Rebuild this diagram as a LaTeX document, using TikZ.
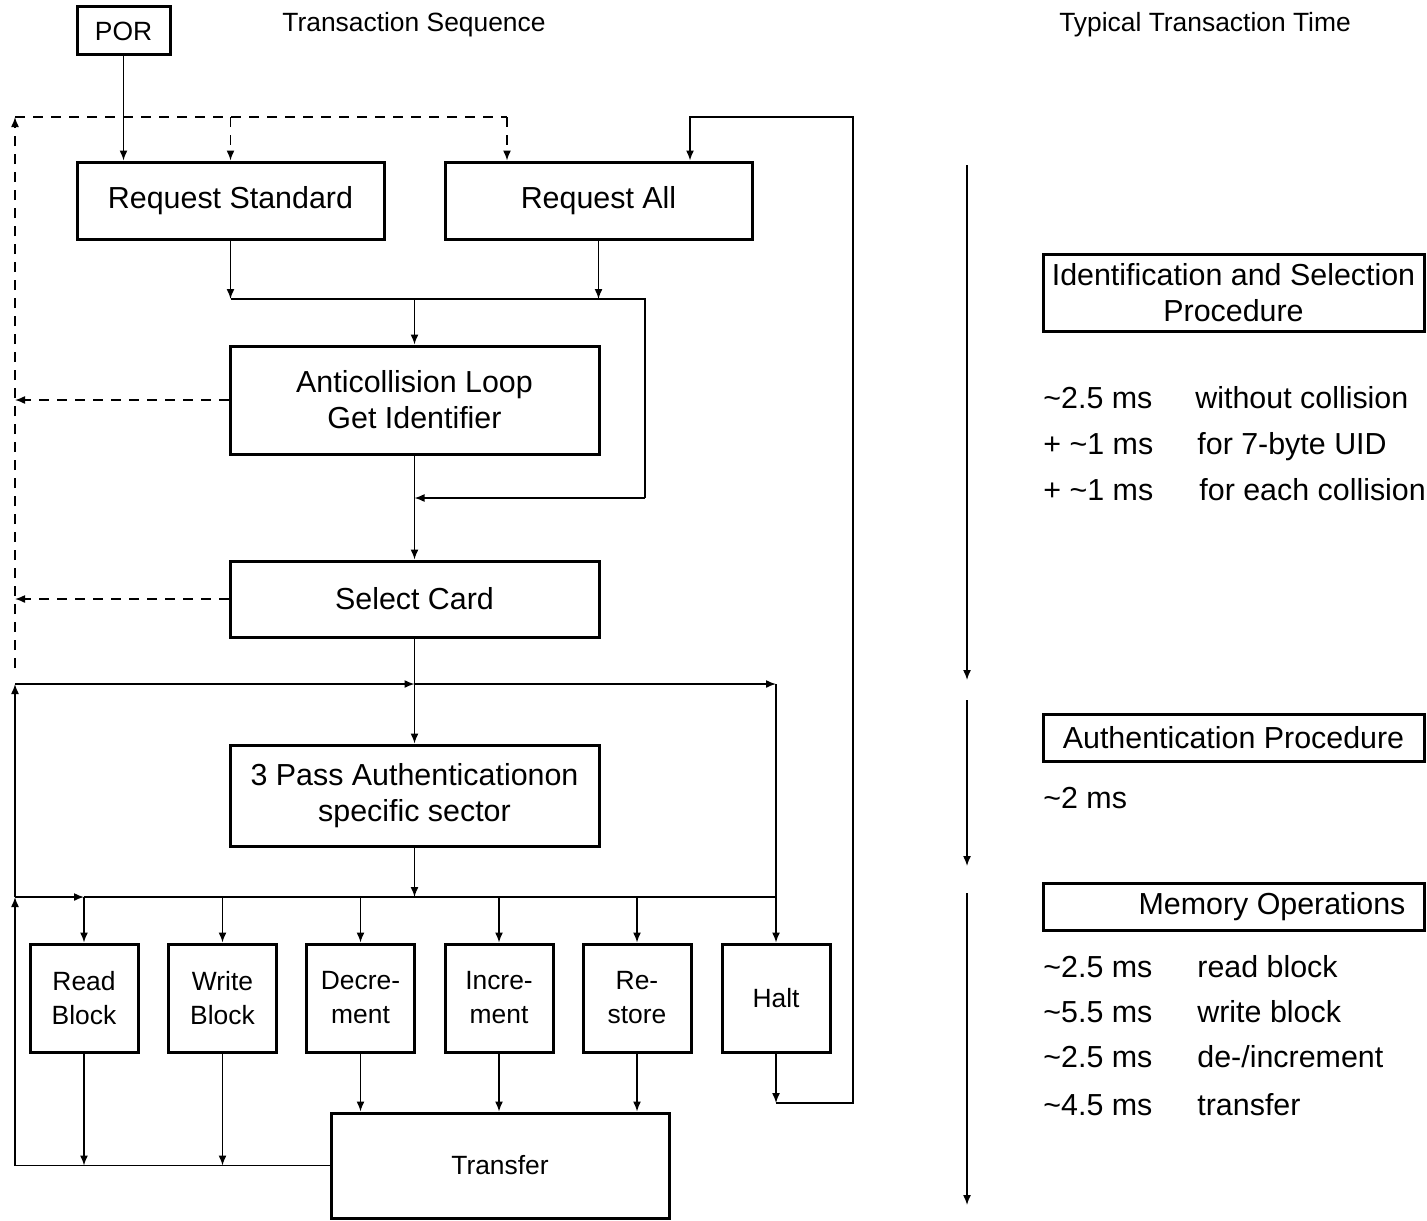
\documentclass[tikz,border=0pt]{standalone}
\usepackage{fontspec}
\setmainfont{Liberation Sans}
\usetikzlibrary{arrows.meta}
\begin{document}
\begin{tikzpicture}[x=0.5pt,y=-0.5pt,
  box/.style={draw, line width=1.5pt, align=center, inner sep=0pt, font=\fontsize{15.2}{18}\selectfont},
  sbox/.style={draw, line width=1.5pt, align=center, inner sep=0pt, minimum width=54pt, minimum height=54pt, font=\fontsize{13.2}{17}\selectfont},
  conn/.style={line width=0.75pt},
  arr/.style={conn, -{Latex[length=5pt,width=4pt]}},
  dconn/.style={conn, dash pattern=on 5pt off 4pt},
  darr/.style={arr, dash pattern=on 5pt off 4pt},
  lbl/.style={anchor=base west, inner sep=0pt, font=\fontsize{15.2}{18}\selectfont},
  ttl/.style={inner sep=0pt, font=\fontsize{13.2}{16}\selectfont},
]
\useasboundingbox (0,0) rectangle (1427,1220);

% titles
\node[ttl] (t1) at (414,25) {Transaction Sequence};
\node[ttl] (t2) at (1205,25) {Typical Transaction Time};

% main boxes
\node[box, minimum width=46.5pt, minimum height=24pt, font=\fontsize{13.2}{16}\selectfont] (por) at (123.5,31) {POR};
\node[box, minimum width=153.5pt, minimum height=38.5pt] (rs) at (230.5,200.5) {Request Standard};
\node[box, minimum width=153.5pt, minimum height=38.5pt] (ra) at (598.5,200.5) {Request All};
\node[box, minimum width=184.5pt, minimum height=54pt] (ac) at (414.5,400) {Anticollision Loop\\Get Identifier};
\node[box, minimum width=184.5pt, minimum height=38pt] (sc) at (414.5,599) {Select Card};
\node[box, minimum width=184.5pt, minimum height=50.5pt] (pa) at (414.5,795.5) {3 Pass Authenticationon\\specific sector};

\node[sbox] (rb) at (84,998) {Read\\Block};
\node[sbox] (wb) at (222.5,998) {Write\\Block};
\node[sbox] (de) at (360.5,998) {Decre-\\ment};
\node[sbox] (in) at (499,998) {Incre-\\ment};
\node[sbox] (rt) at (637,998) {Re-\\store};
\node[sbox] (ha) at (776,998) {Halt};
\node[box, minimum width=169pt, minimum height=52.5pt, font=\fontsize{13.2}{16}\selectfont] (tr) at (500,1165.5) {Transfer};

% coordinates
\coordinate (dl0) at (15,668);
\coordinate (dl1) at (15,117);
\coordinate (dr1) at (507,117);
\coordinate (m1) at (645,299);
\coordinate (m2) at (645,498);
\coordinate (b1l) at (15,684);
\coordinate (b1r) at (776,684);
\coordinate (b2l) at (15,897);
\coordinate (b3l) at (15,1165.5);
\coordinate (h1) at (776,1103);
\coordinate (h2) at (853,1103);
\coordinate (h3) at (853,117);
\coordinate (h4) at (690,117);

% POR
\draw[arr] (por.south) -- (por.south |- rs.north);

% dashed returns
\draw[darr] (dl0) -- (dl1);
\draw[dconn] (dl1) -- (dr1);
\draw[darr] (dr1) -- (dr1 |- ra.north);
\draw[darr] (rs.north |- dl1) -- (rs.north);
\draw[darr] (ac.west) -- (ac.west -| dl1);
\draw[darr] (sc.west) -- (sc.west -| dl1);

% request merge
\draw[arr] (rs.south) -- (rs.south |- m1);
\draw[arr] (ra.south) -- (ra.south |- m1);
\draw[conn] (rs.south |- m1) -- (m1) -- (m2);
\draw[arr] (ac.north |- m1) -- (ac.north);
\draw[arr] (m2) -- (m2 -| ac.south);
\draw[arr] (ac.south) -- (sc.north);
\draw[arr] (sc.south) -- (pa.north);

% bus 1
\draw[arr] (b1l) -- (sc.south |- b1l);
\draw[arr] (sc.south |- b1l) -- (b1r);
\draw[arr] (b1r) -- (b1r |- ha.north);

% bus 2
\draw[arr] (pa.south) -- (pa.south |- b2l);
\draw[arr] (b2l) -- (rb.north |- b2l);
\draw[conn] (rb.north |- b2l) -- (b1r |- b2l);
\draw[arr] (rb.north |- b2l) -- (rb.north);
\draw[arr] (wb.north |- b2l) -- (wb.north);
\draw[arr] (de.north |- b2l) -- (de.north);
\draw[arr] (in.north |- b2l) -- (in.north);
\draw[arr] (rt.north |- b2l) -- (rt.north);

% outputs
\draw[arr] (rb.south) -- (rb.south |- tr.west);
\draw[arr] (wb.south) -- (wb.south |- tr.west);
\draw[arr] (de.south) -- (de.south |- tr.north);
\draw[arr] (in.south) -- (in.south |- tr.north);
\draw[arr] (rt.south) -- (rt.south |- tr.north);
\draw[conn] (tr.west) -- (b3l);
\draw[arr] (b3l) -- (b2l);
\draw[arr] (b2l) -- (b1l);

% halt loop
\draw[arr] (ha.south) -- (h1);
\draw[arr] (h1) -- (h2) -- (h3) -- (h4) -- (h4 |- ra.north);

% time arrows
\coordinate (a1) at (967,165);
\coordinate (a2) at (967,680);
\coordinate (a3) at (967,700);
\coordinate (a4) at (967,866);
\coordinate (a5) at (967,893);
\coordinate (a6) at (967,1205);
\draw[arr] (a1) -- (a2);
\draw[arr] (a3) -- (a4);
\draw[arr] (a5) -- (a6);

% right boxes
\node[box, minimum width=190.5pt, minimum height=38.5pt] (ib) at (1233.5,292.5) {Identification and Selection\\Procedure};
\node[box, minimum width=190.5pt, minimum height=23.5pt] (ap) at (1233.5,737.5) {Authentication Procedure};
\node[box, minimum width=190.5pt, minimum height=23.5pt] (mo) at (1233.5,906.5) {};
\node[box, draw=none] (mot) at (1272,906.5) {Memory Operations};

% timing labels
\node[lbl] (l1a) at (1043,408) {\textasciitilde 2.5 ms};
\node[lbl] (l1b) at (1195,408) {without collision};
\node[lbl] (l2a) at (1043,454) {+ \textasciitilde 1 ms};
\node[lbl] (l2b) at (1197,454) {for 7-byte UID};
\node[lbl] (l3a) at (1043,500) {+ \textasciitilde 1 ms};
\node[lbl] (l3b) at (1199,500) {for each collision};
\node[lbl] (l4a) at (1043,808) {\textasciitilde 2 ms};
\node[lbl] (l5a) at (1043,977) {\textasciitilde 2.5 ms};
\node[lbl] (l5b) at (1197,977) {read block};
\node[lbl] (l6a) at (1043,1022) {\textasciitilde 5.5 ms};
\node[lbl] (l6b) at (1197,1022) {write block};
\node[lbl] (l7a) at (1043,1067) {\textasciitilde 2.5 ms};
\node[lbl] (l7b) at (1197,1067) {de-/increment};
\node[lbl] (l8a) at (1043,1115) {\textasciitilde 4.5 ms};
\node[lbl] (l8b) at (1197,1115) {transfer};
\end{tikzpicture}
\end{document}
